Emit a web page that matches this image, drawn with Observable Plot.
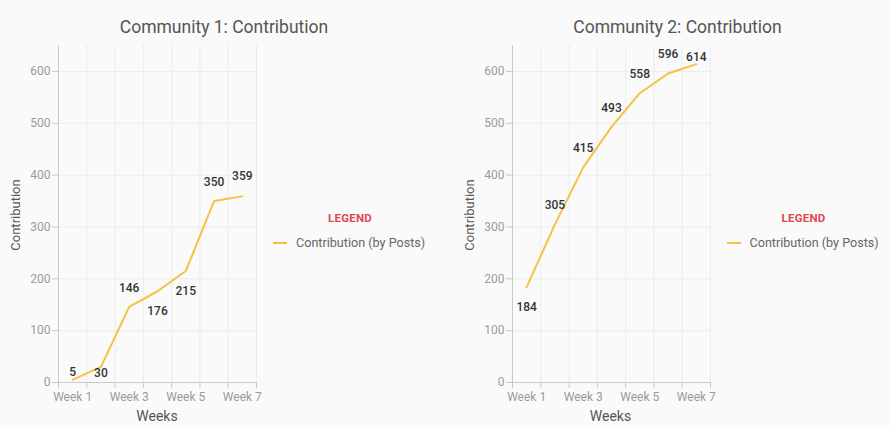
<!DOCTYPE html>
<html>
<head>
<meta charset="utf-8">
<script src="https://cdn.jsdelivr.net/npm/d3@7"></script>
<script src="https://cdn.jsdelivr.net/npm/@observablehq/plot@0.6"></script>
<style>
  html, body { margin: 0; padding: 0; background: #fafafa; overflow: hidden; }
  #root { position: relative; width: 889px; height: 427px; overflow: hidden; font-family: Roboto, "Noto Sans", sans-serif; }
  .panel { position: absolute; top: 0; width: 454px; height: 427px; }
  .title { position: absolute; left: 0; width: 448px; top: 16px; height: 22px; line-height: 22px; text-align: center; font-size: 17.5px; color: #555; }
  .plot { position: absolute; left: 0; top: 40px; }
  .ylabel { position: absolute; left: 15px; top: 215px; transform: translate(-50%, -50%) rotate(-90deg); font-size: 13px; color: #555; white-space: nowrap; }
  .xlabel { position: absolute; left: 157px; top: 416px; transform: translate(-50%, -50%); font-size: 14px; color: #555; white-space: nowrap; }
  .legend-title { position: absolute; left: 300px; width: 100px; top: 211px; height: 14px; line-height: 14px; text-align: center; font-size: 11.5px; font-weight: 700; color: #e0474f; letter-spacing: 0.2px; }
  .legend-swatch { position: absolute; left: 273px; top: 242px; width: 14px; height: 2px; background: #f5c242; }
  .legend-text { position: absolute; left: 296px; top: 236px; height: 14px; line-height: 14px; font-size: 12.6px; color: #666; white-space: nowrap; }
</style>
</head>
<body>
<div id="root"></div>
<script>
// ---- data ----
const weeks = ["Week 1", "Week 2", "Week 3", "Week 4", "Week 5", "Week 6", "Week 7"];
const community1 = [5, 30, 146, 176, 215, 350, 359];
const community2 = [184, 305, 415, 493, 558, 596, 614];
const yTicks = [0, 100, 200, 300, 400, 500, 600];
const xTickLabels = ["Week 1", "Week 3", "Week 5", "Week 7"];
const titles = ["Community 1: Contribution", "Community 2: Contribution"];
const seriesName = "Contribution (by Posts)";
const legendTitle = "LEGEND";
const xTitle = "Weeks";
const yTitle = "Contribution";

// ---- styling (label placement offsets, px) ----
const labelDy1 = [-8, 6, -19, 20, 20, -19, -20];
const labelDy2 = [20, -19, -19, -19, -19, -19, -7];
const lineColor = "#f5c242";
const gridColor = "#ececec";
const axisColor = "#c9c9c9";

function makePanel(values, dys, title, left) {
  const root = document.getElementById("root");
  const panel = document.createElement("div");
  panel.className = "panel";
  panel.style.left = left + "px";
  root.appendChild(panel);

  const t = document.createElement("div");
  t.className = "title";
  t.textContent = title;
  panel.appendChild(t);

  const data = values.map((v, i) => ({week: weeks[i], x: i + 1, y: v, dy: dys[i]}));
  const boundaries = d3.range(0, weeks.length + 1).map(i => i + 0.5);
  const labelTicks = xTickLabels.map(l => weeks.indexOf(l) + 1);
  const dyGroups = Array.from(new Set(dys));

  const chart = Plot.plot({
    width: 454,
    height: 387,
    marginLeft: 58,
    marginRight: 198,
    marginTop: 5,
    marginBottom: 45,
    style: {background: "transparent", fontFamily: "Roboto, 'Noto Sans', sans-serif", fontSize: "12px", overflow: "visible"},
    x: {type: "linear", domain: [0.5, weeks.length + 0.5], axis: null},
    y: {domain: [0, 650], axis: null},
    marks: [
      Plot.ruleY(yTicks.filter(d => d > 0), {stroke: gridColor, strokeWidth: 1}),
      Plot.ruleX(boundaries.slice(1), {stroke: gridColor, strokeWidth: 1}),
      Plot.ruleX([boundaries[0]], {stroke: axisColor, strokeWidth: 1}),
      Plot.ruleY([0], {stroke: axisColor, strokeWidth: 1}),
      Plot.axisY({ticks: yTicks, tickSize: 6, tickPadding: 2, stroke: axisColor, fill: "#9a9a9a", label: null, fontSize: 12}),
      Plot.axisX({ticks: boundaries, tickSize: 6, tickFormat: () => "", stroke: axisColor, label: null}),
      Plot.axisX({ticks: labelTicks, tickSize: 0, tickPadding: 10, tickFormat: d => weeks[d - 1], fill: "#9a9a9a", label: null, fontSize: 12}),
      Plot.line(data, {x: "x", y: "y", stroke: lineColor, strokeWidth: 2}),
      ...dyGroups.map(dy => Plot.text(data.filter(d => d.dy === dy), {
        x: "x", y: "y", text: d => String(d.y), dy: dy,
        fill: "#333", fontSize: 12, fontWeight: 500
      }))
    ]
  });
  const holder = document.createElement("div");
  holder.className = "plot";
  holder.appendChild(chart);
  panel.appendChild(holder);

  const yl = document.createElement("div");
  yl.className = "ylabel";
  yl.textContent = yTitle;
  panel.appendChild(yl);

  const xl = document.createElement("div");
  xl.className = "xlabel";
  xl.textContent = xTitle;
  panel.appendChild(xl);

  const lt = document.createElement("div");
  lt.className = "legend-title";
  lt.textContent = legendTitle;
  panel.appendChild(lt);

  const sw = document.createElement("div");
  sw.className = "legend-swatch";
  panel.appendChild(sw);

  const ltx = document.createElement("div");
  ltx.className = "legend-text";
  ltx.textContent = seriesName;
  panel.appendChild(ltx);
}

makePanel(community1, labelDy1, titles[0], 0);
makePanel(community2, labelDy2, titles[1], 453.5);
</script>
</body>
</html>
